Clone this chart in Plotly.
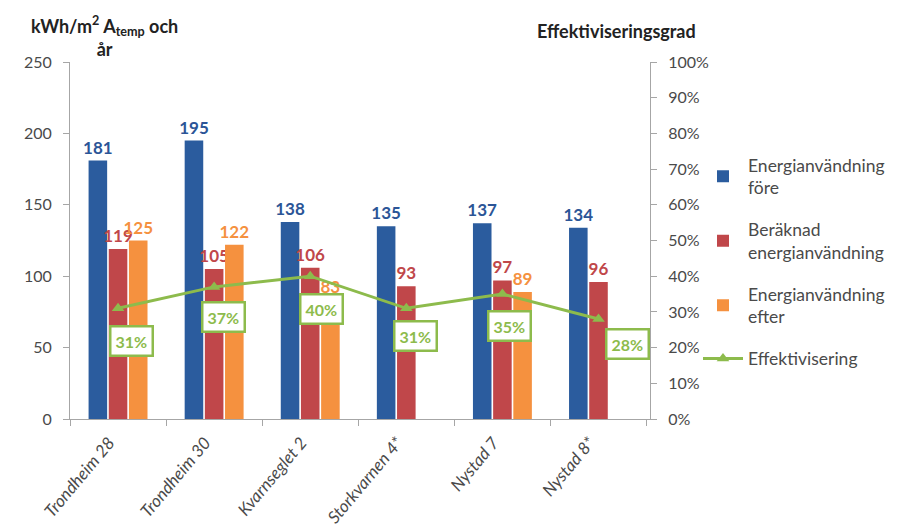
import plotly.graph_objects as go

categories = ["Trondheim 28", "Trondheim 30", "Kvarnseglet 2", "Storkvarnen 4*", "Nystad 7", "Nystad 8*"]
fore = [181, 195, 138, 135, 137, 134]
beraknad = [119, 105, 106, 93, 97, 96]
efter = [125, 122, 83, None, 89, None]
effektivisering = [0.31, 0.37, 0.40, 0.31, 0.35, 0.28]
eff_labels = ["31%", "37%", "40%", "31%", "35%", "28%"]
label_shift = [(13, -33), (9, -30), (11, -33), (9, -28), (7, -32), (29, -25)]

FONT = "Lato"
BLUE, RED, ORANGE, GREEN = "#2B5C9E", "#C0474A", "#F5913F", "#8DBB4C"
GREY = "#4a4a4a"

OFF = 8  # page body margin offset
L, T = 70 - OFF, 62 - OFF
PW, PH = 580, 357
R, B = 899 - L - PW, 530 - T - PH


def px_x(x):
    return (x - OFF - L) / PW


def px_y(y):
    return (T + PH - (y - OFF)) / PH


fig = go.Figure()
for name, vals, col, tcol, grp in [
    ("Energianvändning<br>före", fore, BLUE, "#2B5597", "a"),
    ("Beräknad<br>energianvändning", beraknad, RED, "#C0474A", "b"),
    ("Energianvändning<br>efter", efter, ORANGE, "#F5913F", "c"),
]:
    fig.add_trace(go.Bar(
        x=categories, y=vals, name=name, marker_color=col, marker_line_width=0,
        texttemplate="%{y}", textposition="outside", cliponaxis=False,
        constraintext="none",
        textfont=dict(family=FONT, size=17, color=tcol, weight="bold"),
        legendgroup=grp,
    ))

fig.add_trace(go.Scatter(
    x=categories, y=effektivisering, name="Effektivisering", yaxis="y2",
    mode="lines+markers", line=dict(color=GREEN, width=3),
    marker=dict(symbol="triangle-up", size=11, color=GREEN),
    legendgroup="d",
))

for c, v, lab, (dx, dy) in zip(categories, effektivisering, eff_labels, label_shift):
    fig.add_annotation(
        x=c, y=v, xref="x", yref="y2", text="<b>" + lab + "</b>", showarrow=False,
        xshift=dx, yshift=dy, bgcolor="white", bordercolor=GREEN, borderwidth=2.5,
        borderpad=4, font=dict(family=FONT, size=16, color=GREEN),
    )

fig.add_annotation(
    xref="paper", yref="paper", x=px_x(104), y=px_y(11),
    xanchor="center", yanchor="top", align="center", showarrow=False,
    text="<b>kWh/m<sup>2</sup> A<sub>temp</sub> och<br>år</b>",
    font=dict(family=FONT, size=18, color="#222222"),
)
fig.add_annotation(
    xref="paper", yref="paper", x=px_x(616), y=px_y(31),
    xanchor="center", yanchor="middle", showarrow=False,
    text="<b>Effektiviseringsgrad</b>",
    font=dict(family=FONT, size=18, color="#222222"),
)

fig.update_layout(
    width=899, height=530,
    margin=dict(l=L, r=R, t=T, b=B, autoexpand=False),
    paper_bgcolor="white", plot_bgcolor="white",
    barmode="group", bargap=0.37, bargroupgap=0.08,
    font=dict(family=FONT, size=16, color=GREY),
    showlegend=True,
    legend=dict(
        x=px_x(698), y=px_y(147), xanchor="left", yanchor="top",
        font=dict(family=FONT, size=17.5, color=GREY),
        traceorder="grouped", tracegroupgap=16, itemwidth=40,
        bgcolor="rgba(0,0,0,0)",
    ),
    xaxis=dict(
        type="category", showgrid=False, showline=True, linecolor="#A6A6A6",
        ticks="outside", tickson="boundaries", ticklen=6, tickcolor="#A6A6A6",
        tickangle=-50, automargin=False, ticklabelstandoff=6, ticklabelshift=-9,
        tickfont=dict(family=FONT, size=17, color=GREY, style="italic"),
    ),
    yaxis=dict(
        range=[0, 250], dtick=50, showgrid=False, showline=True, linecolor="#A6A6A6",
        ticks="outside", ticklen=6, tickcolor="#A6A6A6", zeroline=False,
        automargin=False, ticklabelstandoff=8,
        tickfont=dict(family=FONT, size=16, color=GREY),
    ),
    yaxis2=dict(
        overlaying="y", side="right", range=[0, 1], dtick=0.1, tickformat=".0%",
        showgrid=False, showline=True, linecolor="#A6A6A6",
        ticks="outside", ticklen=6, tickcolor="#A6A6A6", zeroline=False,
        automargin=False, ticklabelstandoff=8,
        tickfont=dict(family=FONT, size=16, color=GREY),
    ),
)

fig.write_html("out.html")
